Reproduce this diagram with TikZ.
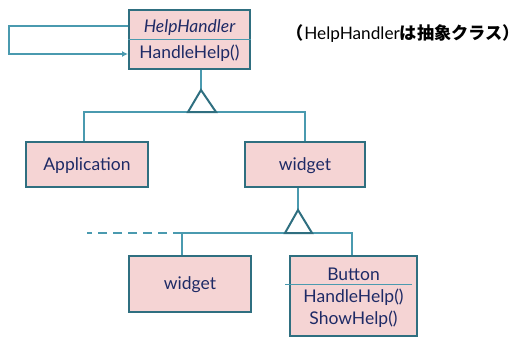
\documentclass[tikz,border=0pt]{standalone}
\usepackage{fontspec}
\setmainfont{Lato}
\newfontfamily\jpfont{Noto Sans CJK JP}
\usetikzlibrary{arrows.meta}
\definecolor{boxfill}{HTML}{F5D4D4}
\definecolor{boxline}{HTML}{2F6F80}
\definecolor{conncol}{HTML}{4A9AAF}
\definecolor{txt}{HTML}{1E2A66}
\begin{document}
\begin{tikzpicture}[x=1pt,y=-1pt,
  cls/.style={draw=boxline, line width=2pt, fill=boxfill, inner sep=0pt},
  lbl/.style={text=txt, font=\fontsize{17.5}{20}\selectfont, inner sep=0pt, anchor=center},
  conn/.style={draw=conncol, line width=1.8pt},
  divider/.style={draw=conncol, line width=0.9pt},
  tri/.style={draw=boxline, line width=2pt, fill=white, line join=miter}]
\useasboundingbox (0,0) rectangle (518,338);

% classes
\node[cls, minimum width=121pt, minimum height=59pt] (hh) at (189.5,39.5) {};
\node[lbl, font=\fontsize{17.5}{20}\selectfont\itshape] (hhname) at (189.5,28) {HelpHandler};
\node[lbl] (hhop) at (189.5,53) {HandleHelp()};
\draw[divider] (hh.west |- 0,39) -- (hh.east |- 0,39);

\node[cls, minimum width=122pt, minimum height=45pt] (app) at (87,164.5) {};
\node[lbl] (applbl) at (87,165.5) {Application};

\node[cls, minimum width=120pt, minimum height=45pt] (w1) at (305,164.5) {};
\node[lbl] (w1lbl) at (305,165.5) {widget};

\node[cls, minimum width=122pt, minimum height=56pt] (w2) at (190,284) {};
\node[lbl] (w2lbl) at (190,285) {widget};

\node[cls, minimum width=127pt, minimum height=80pt] (btn) at (353.5,296) {};
\node[lbl] (btnname) at (353.5,274) {Button};
\node[lbl] (btnop1) at (353.5,297) {HandleHelp()};
\node[lbl] (btnop2) at (353.5,319) {ShowHelp()};
\coordinate (dl) at (285,284);
\coordinate (dr) at (412,284);
\draw[divider] (dl) -- (dr);

% note
\node[inner sep=0pt, text=black, font=\fontsize{17.2}{20}\selectfont] (note) at (403,34)
  {{\jpfont\bfseries\kern-0.45em （}\kern1pt HelpHandler{\jpfont\bfseries は抽象クラス）\kern-0.45em}};

% self loop
\coordinate (l1) at (9,26);
\coordinate (l2) at (9,54);
\draw[conn, -{Latex[length=6pt,width=6pt]}] (hh.west |- l1) -- (l1) -- (l2) -- (hh.west |- l2);

% first generalization
\coordinate (t1) at (201,90);
\coordinate (t1l) at (188,112);
\coordinate (t1r) at (216,112);
\coordinate (b1l) at (84,112);
\coordinate (b1r) at (305,112);
\draw[conn] (t1 |- hh.south) -- (t1);
\draw[conn] (b1l |- app.north) -- (b1l) -- (b1r) -- (b1r |- w1.north);
\draw[tri] (t1) -- (t1l) -- (t1r) -- cycle;

% second generalization
\coordinate (t2) at (298,210);
\coordinate (t2l) at (285,233);
\coordinate (t2r) at (312,233);
\coordinate (b2l) at (182,233);
\coordinate (b2r) at (352,233);
\coordinate (dash) at (87,233);
\draw[conn] (t2 |- w1.south) -- (t2);
\draw[conn] (b2l |- w2.north) -- (b2l) -- (b2r) -- (b2r |- btn.north);
\draw[conn, dash pattern=on 9pt off 6pt] (b2l) -- (dash);
\draw[tri] (t2) -- (t2l) -- (t2r) -- cycle;
\end{tikzpicture}
\end{document}
